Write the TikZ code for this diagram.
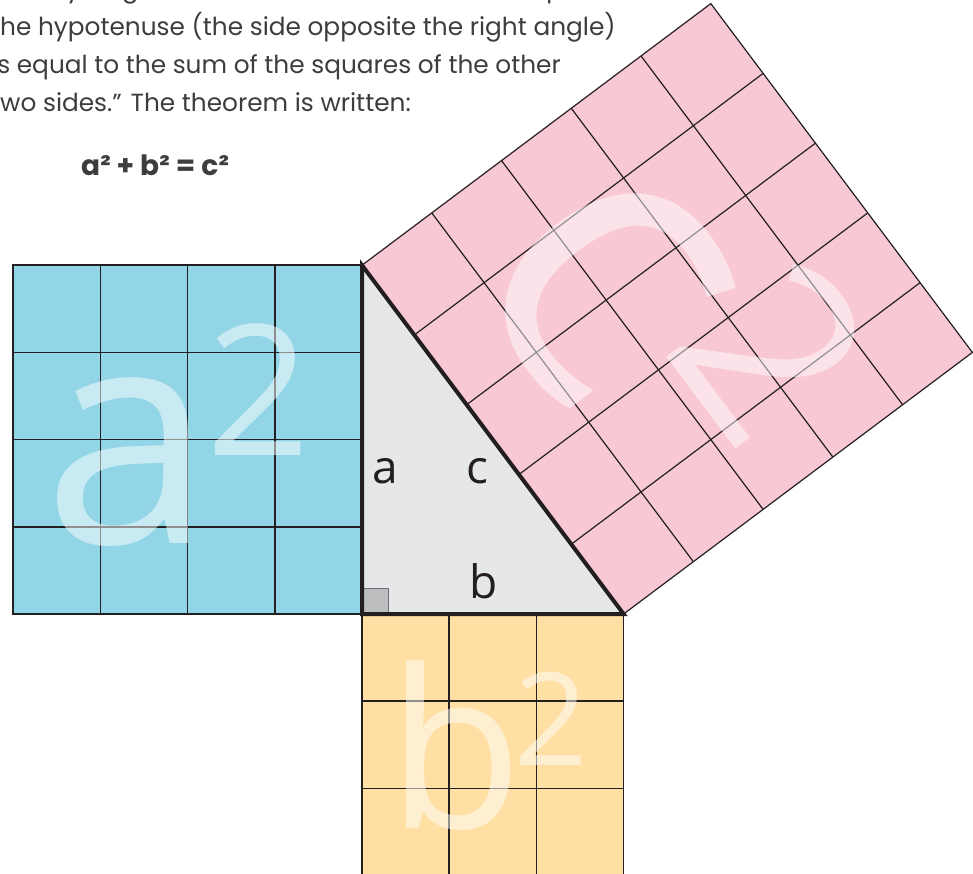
\documentclass[tikz,border=0pt]{standalone}
\usepackage{fontspec}
\setmainfont{Poppins}
\newfontfamily\lblfont{Open Sans}
\usetikzlibrary{calc}
\definecolor{sqblue}{HTML}{92D5E6}
\definecolor{sqorange}{HTML}{FFDFA3}
\definecolor{sqpink}{HTML}{F8C8D4}
\definecolor{tri}{HTML}{E6E7E8}
\definecolor{ink}{HTML}{231F20}
\definecolor{txt}{HTML}{3D3D3D}
\definecolor{ramark}{HTML}{BCBEC0}
\definecolor{ramarkline}{HTML}{6D6E71}
\begin{document}
\begin{tikzpicture}[x=1pt,y=-1pt,
 grid/.style={draw=ink,line width=1.6pt},
 pgrid/.style={draw=ink,line width=1.2pt},
 side/.style={draw=ink,line width=4pt,line join=miter},
 body/.style={anchor=base west,inner sep=0,text=txt,font=\fontsize{24.8}{30}\selectfont},
 big/.style={inner sep=0,text=white,text opacity=0.5},
 lbl/.style={anchor=base,inner sep=0,text=ink,font=\lblfont\fontsize{46}{46}\selectfont}]
\useasboundingbox (0,0) rectangle (973,874);
\clip (0,0) rectangle (973,874);
\coordinate (R) at (362,614);
\coordinate (A) at (362,265.2);
\coordinate (B) at (623.6,614);
\coordinate (P3) at (972.4,352.4);
\coordinate (P4) at (710.8,3.6);
% text
\node[body] (l1) at (-9,-2) {“The Pythagorean Theorem states that the square of};
\node[body] (l2) at (-9,36) {the hypotenuse (the side opposite the right angle)};
\node[body] (l3) at (-9,74) {is equal to the sum of the squares of the other};
\node[body] (l4) at (-9,112) {two sides.” The theorem is written:};
\node[body,anchor=base,font=\bfseries\fontsize{28}{32}\selectfont] (eq) at (155,176) {a² + b² = c²};
% blue square
\fill[sqblue] (13.2,265.2) rectangle (362,614);
\foreach \i in {1,2,3} {
  \draw[grid] (13.2+87.2*\i,265.2) -- (13.2+87.2*\i,614);
  \draw[grid] (13.2,265.2+87.2*\i) -- (362,265.2+87.2*\i);
}
\draw[grid] (13.2,265.2) rectangle (362,614);
% orange square
\fill[sqorange] (362,614) rectangle (623.6,875.6);
\foreach \i in {1,2} {
  \draw[grid] (362+87.2*\i,614) -- (362+87.2*\i,875.6);
  \draw[grid] (362,614+87.2*\i) -- (623.6,614+87.2*\i);
}
\draw[grid] (362,614) rectangle (623.6,875.6);
% pink square
\fill[sqpink] (A) -- (B) -- (P3) -- (P4) -- cycle;
\foreach \i in {1,...,4} {
  \draw[pgrid] ($(A)!\i/5!(B)$) -- ($(P4)!\i/5!(P3)$);
  \draw[pgrid] ($(A)!\i/5!(P4)$) -- ($(B)!\i/5!(P3)$);
}
\draw[pgrid] (A) -- (P4) -- (P3) -- (B);
% big letters
\node[big,font=\lblfont\fontsize{305}{305}\selectfont] (bigA) at (128,462) {a};
\node[big,font=\lblfont\fontsize{182}{182}\selectfont] (bigA2) at (259,390) {2};
\node[big,font=\lblfont\fontsize{221}{221}\selectfont] (bigB) at (455,746) {b};
\node[big,font=\lblfont\fontsize{129}{129}\selectfont] (bigB2) at (551.5,719) {2};
\node[big,rotate=-53.13,font=\lblfont\fontsize{410}{410}\selectfont] (bigC) at (604,283) {c};
\node[big,rotate=-53.13,font=\lblfont\fontsize{245}{245}\selectfont] (bigC2) at (772,350) {2};
% triangle
\fill[tri] (R) -- (A) -- (B) -- cycle;
\filldraw[fill=ramark,draw=ramarkline,line width=1pt] (362,588) rectangle (388,614);
\draw[side] (A) -- (R) -- (B) -- cycle;
% labels
\node[lbl] (la) at (385,483) {a};
\node[lbl] (lc) at (477.5,483) {c};
\node[lbl] (lb) at (484,598) {b};
\end{tikzpicture}
\end{document}
